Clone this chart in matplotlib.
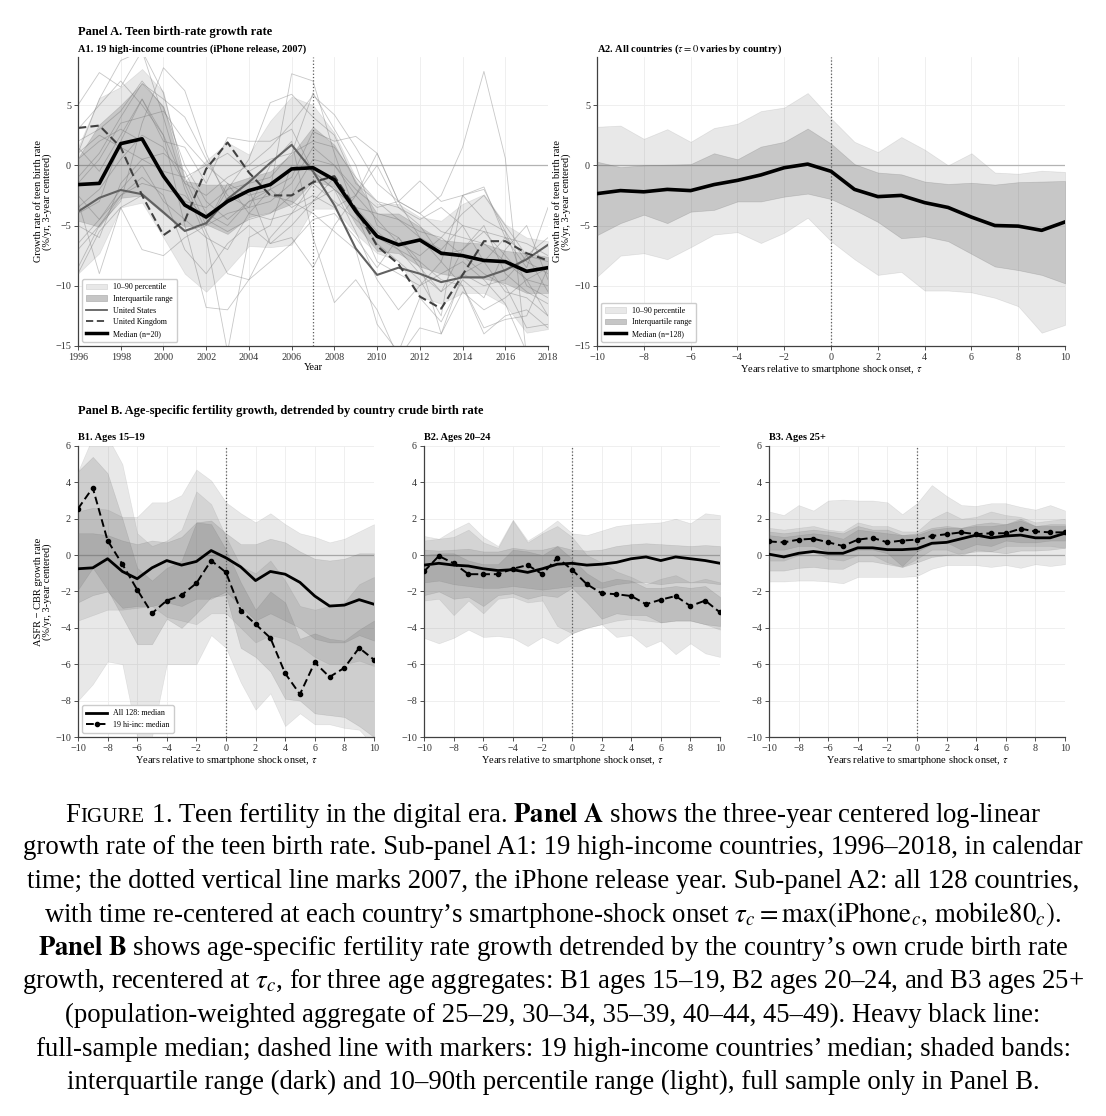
import matplotlib
matplotlib.use('agg')
import matplotlib.pyplot as plt
from matplotlib.patches import Patch
from matplotlib.lines import Line2D
from matplotlib.offsetbox import TextArea, HPacker, AnnotationBbox
import numpy as np

plt.rcParams['font.family'] = ['Liberation Serif', 'DejaVu Serif']
plt.rcParams['mathtext.fontset'] = 'stix'

# ---------------- data ----------------
years = np.arange(1996, 2019)
tau = np.arange(-10, 11)

# A1: 19 high-income countries, calendar time
a1_median = [-1.6, -1.5, 1.8, 2.2, -0.9, -3.3, -4.3, -3.0, -2.1, -1.6, -0.3, -0.2,
             -1.2, -3.8, -5.9, -6.6, -6.2, -7.3, -7.5, -7.9, -8.0, -8.8, -8.5]
a1_us = [-3.85, -2.7, -2.05, -2.4, -3.9, -5.45, -4.8, -2.8, -1.4, 0.2, 1.7, -0.5,
         -3.3, -6.9, -9.1, -8.5, -9.0, -9.7, -9.3, -9.3, -8.7, -7.8, -6.6]
a1_uk = [3.1, 3.3, 1.5, -2.5, -5.8, -4.6, -0.3, 1.9, -0.6, -2.5, -2.5, -1.4,
         -0.9, -3.6, -6.7, -8.2, -10.9, -11.9, -9.1, -6.3, -6.3, -7.3, -7.9]
a1_p10 = [-9.0, -7.3, -3.5, -3.1, -6.0, -9.0, -10.5, -8.7, -6.7, -6.8, -6.6, -3.6,
          -3.6, -5.7, -7.3, -7.9, -10.9, -11.5, -10.6, -10.6, -11.6, -13.9, -13.6]
a1_p90 = [1.5, 5.6, 6.5, 8.0, 6.1, -1.3, 0.4, 1.9, 0.9, 3.7, 5.7, 5.0,
          2.7, -1.0, -3.2, -3.2, -4.3, -4.6, -3.2, -2.4, -4.9, -6.0, -6.3]
a1_p25 = [-4.6, -5.1, -2.7, -2.5, -4.0, -5.1, -4.9, -5.7, -4.3, -3.9, -3.2, -1.3,
          -1.8, -4.9, -7.1, -7.3, -8.4, -9.0, -9.3, -9.4, -9.8, -10.6, -10.6]
a1_p75 = [0.6, 3.4, 5.0, 6.8, 4.9, -1.3, -1.6, -1.6, -1.0, -0.5, 0.9, 3.2,
          1.7, -1.3, -4.0, -4.0, -5.1, -6.2, -6.4, -6.5, -7.1, -7.3, -7.6]
a1_others = [
    [5.0, 7.7, 6.5, 9.5, 6.0, -1.0, -5.0, -2.0, 0.5, 5.2, 5.9, 4.0, 2.5, -1.5, -3.0, -4.5, -5.5, -6.0, -4.0, -2.5, -5.0, -7.5, -6.0],
    [1.0, 5.5, 8.7, 9.5, 4.0, -2.0, -6.0, -7.0, -4.0, -2.0, 7.6, 7.0, 1.0, -4.0, -8.0, -9.0, -10.0, -8.0, -10.0, -13.5, -12.8, -12.5, -8.5],
    [-8.5, -5.0, -3.0, 3.5, 8.1, 6.2, 1.0, -3.0, -2.0, -6.5, -5.0, -3.0, -2.0, -3.5, -4.0, -4.5, -6.0, -8.0, -2.5, -2.0, -5.5, -10.0, -11.0],
    [-3.0, -9.0, -3.5, -7.0, -7.5, -6.0, -5.0, -4.0, -3.5, 0.0, 2.0, -6.0, -11.4, -9.5, -12.0, -16.0, -13.5, -14.0, -9.0, -8.0, -10.5, -11.0, -12.5],
    [1.5, -0.5, 2.5, 5.5, 2.0, 1.5, -1.5, 2.3, 2.0, 2.0, 3.0, -0.5, -2.0, -3.5, -5.5, -7.0, -8.0, -9.5, -10.0, -14.0, -12.5, -12.0, -13.5],
    [-1.0, 1.0, 4.0, 6.8, 5.5, 4.0, 0.5, -2.5, -3.5, -3.0, -1.5, 1.5, 0.0, -2.5, -4.5, -6.5, -7.5, -6.0, -7.5, -9.0, -10.0, -13.5, -13.2],
    [-4.0, -3.0, 2.0, 5.5, 2.5, -5.0, -11.8, -12.0, -9.5, -6.0, -4.0, -3.0, -1.0, -4.0, -6.5, -8.0, -9.5, -12.5, -2.5, -1.8, -6.0, -8.5, -3.5],
    [2.0, 3.0, 4.5, 7.0, 4.8, 0.0, -3.0, -4.5, -3.0, -2.0, -1.0, 2.8, 2.0, 2.4, 1.0, -3.0, -1.3, -3.0, -2.5, -4.5, -5.5, -8.0, -9.0],
    [-6.5, -4.5, -2.0, 0.0, -3.0, -4.5, -6.0, -15.5, -6.0, -5.0, 0.0, -0.5, -2.0, -5.5, -9.5, -12.0, -10.0, -9.0, -8.0, -9.5, -11.5, -15.5, -15.5],
    [0.5, 2.0, 3.0, 2.0, -1.0, -3.0, -3.5, -2.0, -1.5, -1.0, 1.0, 2.0, 1.5, -1.0, -3.0, -3.5, -4.5, -3.5, -5.0, -5.5, -6.0, -6.5, -7.5],
    [-5.0, -6.0, -1.5, 0.5, 1.0, -0.5, -4.0, -5.0, -3.0, -2.5, -3.0, -4.0, -5.5, -7.0, -13.2, -15.5, -11.0, -13.0, -9.5, -11.0, -7.0, -5.0, -9.5],
    [3.0, 5.0, 7.0, 5.0, 2.5, -1.5, -2.5, -1.0, 0.0, 1.5, 3.5, 5.8, 4.2, 1.5, -1.5, -3.0, -4.0, -2.5, 1.5, 7.8, 0.6, -16.0, -15.5],
    [-2.5, -4.5, -2.5, -1.5, -2.0, -2.5, -4.5, -5.5, -4.5, -4.0, -2.5, 0.5, 0.0, -2.0, -3.5, -3.0, -4.0, -5.5, -6.0, -6.5, -8.0, -9.5, -10.0],
    [-7.0, -5.0, -2.5, -1.0, -2.5, -7.0, -9.0, -6.5, -5.0, -6.5, -6.0, -8.5, -5.0, -2.5, 1.0, -3.0, -6.0, -7.0, -5.0, -8.0, -6.0, -7.5, -8.0],
    [-1.5, 0.5, 3.5, 4.0, 4.5, 2.0, 0.0, -1.5, -2.5, -2.0, -3.5, -2.5, -3.5, -2.5, 0.0, -3.5, -5.0, -7.5, -7.0, -5.0, -9.0, -10.5, -11.5],
    [-9.0, -5.5, -3.5, -2.5, -4.0, -5.5, -5.0, -1.5, -4.0, -4.5, -4.0, -1.5, -3.0, -4.5, -6.0, -7.0, -9.0, -10.5, -9.0, -10.0, -9.5, -7.5, -10.5],
    [1.0, 2.5, 1.5, 0.5, -0.5, -1.0, 0.0, 1.0, -0.5, 0.5, 1.0, 6.0, 3.0, 0.0, -5.0, -6.0, -8.5, -10.5, -7.0, -5.5, -7.5, -9.5, -12.5],
    [-3.5, -2.0, 0.5, 2.5, 1.5, -1.5, -5.5, -9.0, -9.5, -8.0, -6.5, -4.5, -4.0, -6.0, -8.5, -6.0, -8.0, -14.0, -10.5, -12.0, -11.0, -9.5, -8.5],
]

# A2: all 128 countries, event time
a2_median = [-2.35, -2.1, -2.2, -2.0, -2.1, -1.6, -1.25, -0.8, -0.2, 0.1, -0.5,
             -2.0, -2.6, -2.5, -3.1, -3.5, -4.3, -5.0, -5.05, -5.4, -4.7]
a2_p25 = [-5.8, -4.8, -4.1, -4.8, -3.85, -3.7, -3.0, -3.0, -2.6, -2.35, -2.8,
          -3.7, -4.7, -6.05, -5.9, -6.3, -7.35, -8.4, -8.7, -9.1, -9.8]
a2_p75 = [0.3, -0.15, 0.0, 0.05, 0.1, 1.0, 0.5, 1.55, 1.95, 3.05, 1.8,
          0.1, -0.6, -0.75, -1.35, -1.55, -1.45, -1.6, -1.4, -1.35, -1.3]
a2_p10 = [-9.25, -7.5, -7.3, -7.8, -6.8, -5.75, -5.55, -6.45, -5.6, -4.35, -6.3,
          -7.8, -9.1, -8.85, -10.4, -10.4, -10.55, -11.0, -11.7, -13.9, -13.25]
a2_p90 = [3.2, 3.3, 2.2, 3.0, 1.95, 3.1, 3.45, 4.5, 4.8, 6.0, 3.9,
          1.95, 1.1, 2.35, 1.3, 0.0, 1.0, -0.6, -0.7, -0.45, -0.55]

# B1: ages 15-19
b1_all_med = [-0.75, -0.7, -0.2, -0.9, -1.3, -0.7, -0.3, -0.55, -0.35, 0.25, -0.15,
              -0.65, -1.4, -0.9, -1.05, -1.5, -2.25, -2.8, -2.75, -2.45, -2.7]
b1_hi_med = [2.55, 3.7, 0.8, -0.5, -1.9, -3.2, -2.5, -2.2, -1.55, -0.3, -0.95,
             -3.05, -3.8, -4.55, -6.5, -7.65, -5.9, -6.7, -6.2, -5.1, -5.75]
b1_all_p10 = [-3.6, -3.3, -3.0, -3.0, -2.9, -2.8, -3.4, -3.6, -3.8, -3.2, -3.2,
              -4.0, -4.8, -4.4, -4.6, -5.0, -5.6, -6.0, -6.0, -5.8, -6.1]
b1_all_p25 = [-2.6, -2.2, -2.0, -2.9, -2.8, -2.8, -2.6, -2.8, -2.4, -2.4, -2.0,
              -2.8, -3.6, -3.2, -3.6, -4.0, -4.6, -4.8, -4.8, -4.4, -4.7]
b1_all_p75 = [1.2, 1.2, 1.1, 0.8, 0.6, 0.8, 0.7, 1.0, 1.8, 1.9, 1.2,
              0.6, 0.6, 0.9, 0.7, 0.2, -0.2, -0.3, -0.2, 0.1, 0.1]
b1_all_p90 = [2.4, 2.6, 2.5, 2.1, 2.1, 2.9, 2.9, 3.3, 4.7, 4.1, 2.9,
              2.3, 1.8, 2.3, 1.7, 1.2, 1.0, 0.7, 0.9, 1.3, 1.7]
b1_hi_p10 = [-8.0, -7.1, -5.85, -6.0, -10.0, -10.0, -6.0, -6.0, -6.0, -4.4, -5.1,
             -7.0, -8.5, -7.6, -9.4, -8.7, -9.3, -9.3, -9.5, -9.6, -10.5]
b1_hi_p25 = [-1.9, -0.7, -1.9, -3.4, -4.9, -4.9, -3.5, -4.0, -3.2, -2.3, -2.2,
             -5.1, -5.6, -6.4, -7.9, -8.0, -8.7, -8.8, -8.9, -9.4, -10.0]
b1_hi_p75 = [4.6, 5.4, 4.5, 2.0, -0.7, -1.4, -0.7, -0.3, 1.8, 1.7, 0.3,
             -1.5, -3.0, -2.0, -2.6, -4.6, -4.3, -4.6, -4.7, -4.1, -3.6]
b1_hi_p90 = [4.6, 6.5, 6.5, 5.0, 1.2, 0.5, 0.8, 1.4, 3.5, 2.8, 1.0,
             -0.6, -1.0, -0.3, -1.4, -2.8, -3.0, -2.8, -2.6, -1.6, -1.2]

# B2: ages 20-24
b2_all_med = [-0.55, -0.45, -0.55, -0.6, -0.75, -0.85, -0.8, -0.95, -0.75, -0.5, -0.45,
              -0.55, -0.5, -0.4, -0.2, -0.1, -0.3, -0.1, -0.2, -0.3, -0.45]
b2_hi_med = [-0.9, -0.05, -0.45, -1.05, -1.05, -1.05, -0.75, -0.55, -1.05, -0.15, -0.8,
             -1.6, -2.1, -2.15, -2.25, -2.7, -2.45, -2.25, -2.8, -2.5, -3.15]
b2_all_p10 = [-4.55, -4.85, -4.55, -4.1, -4.5, -4.45, -4.55, -5.0, -4.5, -4.85, -4.3,
              -4.0, -3.8, -3.6, -3.5, -3.6, -3.7, -3.6, -3.6, -3.8, -4.1]
b2_all_p25 = [-1.5, -1.4, -1.6, -1.7, -1.8, -1.8, -1.7, -1.8, -1.9, -1.8, -1.7,
              -1.7, -1.8, -1.6, -1.5, -1.5, -1.6, -1.5, -1.5, -1.5, -1.6]
b2_all_p75 = [0.3, 0.25, 0.3, 0.35, 0.2, 0.2, 0.4, 0.3, 0.3, 0.5, 0.3,
              0.25, 0.3, 0.5, 0.6, 0.65, 0.6, 0.55, 0.5, 0.55, 0.5]
b2_all_p90 = [1.05, 0.9, 1.4, 1.8, 1.0, 0.5, 1.95, 0.8, 1.3, 1.9, 1.2,
              1.1, 1.35, 1.6, 1.7, 1.75, 1.8, 2.0, 1.75, 2.3, 2.2]
b2_hi_p10 = [-2.5, -2.4, -3.3, -2.5, -3.2, -2.4, -2.3, -2.6, -2.5, -3.9, -4.3,
             -4.0, -3.8, -4.5, -4.4, -5.05, -4.7, -5.45, -4.85, -5.4, -5.6]
b2_hi_p25 = [-2.2, -2.0, -2.4, -2.3, -2.8, -2.2, -2.1, -2.4, -2.2, -2.3, -1.8,
             -2.6, -3.5, -3.2, -3.3, -3.3, -3.7, -3.6, -3.6, -3.8, -3.9]
b2_hi_p75 = [0.0, 0.1, 0.1, -0.3, -0.5, -0.5, 0.3, 0.2, 0.0, 0.5, -0.2,
             -1.0, -1.5, -1.3, -1.4, -1.8, -1.8, -1.7, -1.8, -1.7, -2.3]
b2_hi_p90 = [0.8, 0.9, 1.0, 1.4, 0.7, 0.4, 1.9, 0.7, 1.2, 1.6, 1.0,
             0.0, -0.4, -0.9, -1.2, -1.6, -1.3, -1.1, -1.5, -1.3, -1.5]

# B3: ages 25+
b3_all_med = [0.05, -0.1, 0.1, 0.2, 0.1, 0.1, 0.4, 0.4, 0.3, 0.3, 0.35,
              0.65, 0.7, 0.9, 1.1, 0.95, 1.05, 1.1, 0.95, 0.95, 1.2]
b3_hi_med = [0.75, 0.7, 0.85, 0.9, 0.7, 0.5, 0.85, 0.95, 0.7, 0.8, 0.85,
             1.05, 1.15, 1.25, 1.15, 1.2, 1.2, 1.45, 1.3, 1.25, 1.25]
b3_all_p10 = [-1.45, -1.45, -1.4, -1.4, -1.45, -1.55, -1.2, -1.2, -1.2, -1.2, -1.15,
              -0.75, -0.55, -0.55, -0.55, -0.65, -0.55, -0.7, -0.5, -0.6, -0.5]
b3_all_p25 = [-0.85, -0.85, -0.7, -0.65, -0.75, -0.75, -0.35, -0.35, -0.5, -0.65, -0.4,
              -0.1, 0.0, 0.1, 0.2, 0.2, 0.1, 0.25, 0.25, 0.3, 0.4]
b3_all_p75 = [1.3, 1.2, 1.3, 1.4, 1.3, 1.2, 1.6, 1.4, 1.4, 1.1, 1.2,
              1.5, 1.6, 1.5, 1.7, 1.8, 1.7, 1.9, 1.6, 1.7, 1.7]
b3_all_p90 = [2.4, 2.2, 2.75, 2.45, 3.0, 3.05, 3.0, 3.0, 2.9, 2.25, 2.85,
              3.85, 3.25, 2.75, 2.7, 2.85, 2.85, 2.65, 2.5, 2.75, 2.45]
b3_hi_p10 = [-0.3, -0.3, 0.0, 0.2, -0.2, -0.3, 0.0, 0.0, -0.4, -0.65, -0.2,
             0.3, 0.3, 0.0, 0.3, 0.2, 0.5, 0.5, 0.5, 0.5, 0.4]
b3_hi_p25 = [0.3, 0.3, 0.5, 0.5, 0.2, 0.1, 0.3, 0.3, 0.1, -0.6, 0.2,
             0.6, 0.7, 0.3, 0.6, 0.5, 0.8, 0.7, 0.7, 0.8, 0.8]
b3_hi_p75 = [1.1, 1.0, 1.1, 1.2, 1.1, 0.9, 1.4, 1.3, 1.2, 1.1, 1.1,
             1.4, 1.5, 1.5, 1.6, 1.6, 1.7, 2.0, 1.6, 1.6, 1.6]
b3_hi_p90 = [1.5, 1.4, 1.5, 1.6, 1.4, 1.3, 1.8, 1.6, 1.6, 1.3, 1.3,
             2.0, 2.4, 2.0, 2.1, 2.4, 2.2, 2.1, 1.8, 1.9, 2.0]

band_col = '0.4'
a_light = 0.15
a_dark = 0.25
tick_fs = 7.3
lab_fs = 7.5
leg_fs = 5.8
sub_fs = 7.5


def style_ax(ax, ylim, yticks):
    ax.set_ylim(*ylim)
    ax.set_yticks(yticks)
    ax.grid(True, color='0.93', lw=0.6)
    ax.set_axisbelow(True)
    for s in ['top', 'right']:
        ax.spines[s].set_visible(False)
    for s in ['left', 'bottom']:
        ax.spines[s].set_color('0.25')
        ax.spines[s].set_linewidth(0.9)
    ax.tick_params(labelsize=tick_fs, length=3, width=0.6, colors='0.2', pad=2)
    ax.axhline(0, color='0.7', lw=0.9, zorder=1)


fig = plt.figure(figsize=(11.06, 11.16), dpi=100)

# ---------------- Panel A1 ----------------
ax = fig.add_axes([0.0705, 0.690, 0.4250, 0.2590])
style_ax(ax, (-15, 9), [-15, -10, -5, 0, 5])
for row in a1_others:
    ax.plot(years, row, color='0.6', lw=0.6, alpha=0.55, zorder=2)
ax.fill_between(years, a1_p10, a1_p90, color=band_col, alpha=a_light, lw=0.5, zorder=3)
ax.fill_between(years, a1_p25, a1_p75, color=band_col, alpha=a_dark, lw=0.5, zorder=3)
ax.plot(years, a1_us, color='0.38', lw=1.5, zorder=4)
ax.plot(years, a1_uk, color='0.25', lw=1.5, ls=(0, (4, 2)), zorder=4)
ax.plot(years, a1_median, color='k', lw=2.6, zorder=5)
ax.axvline(2007, color='0.35', ls=':', lw=0.9, zorder=4)
ax.set_xlim(1996, 2018)
ax.set_xticks(np.arange(1996, 2019, 2))
ax.set_xlabel('Year', fontsize=lab_fs, labelpad=1)
ax.set_ylabel('Growth rate of teen birth rate\n(%/yr, 3-year centered)', fontsize=lab_fs,
              linespacing=1.0, labelpad=2)
ax.set_title('A1. 19 high-income countries (iPhone release, 2007)', loc='left',
             fontsize=sub_fs, fontweight='bold', pad=4)
handles = [Patch(fc='#e8e8e8', ec='#d5d5d5', lw=0.5, label='10–90 percentile'),
           Patch(fc='#c6c6c6', ec='#b0b0b0', lw=0.5, label='Interquartile range'),
           Line2D([], [], color='0.38', lw=1.3, label='United States'),
           Line2D([], [], color='0.25', lw=1.3, ls=(0, (4, 2)), label='United Kingdom'),
           Line2D([], [], color='k', lw=2.5, label='Median (n=20)')]
ax.legend(handles=handles, loc='lower left', fontsize=leg_fs, frameon=True,
          edgecolor='0.8', framealpha=1, handlelength=2.6, borderpad=0.5,
          labelspacing=0.45)

# ---------------- Panel A2 ----------------
ax = fig.add_axes([0.5398, 0.690, 0.4232, 0.2590])
style_ax(ax, (-15, 9), [-15, -10, -5, 0, 5])
ax.fill_between(tau, a2_p10, a2_p90, color=band_col, alpha=a_light, lw=0.5, zorder=3)
ax.fill_between(tau, a2_p25, a2_p75, color=band_col, alpha=a_dark, lw=0.5, zorder=3)
ax.plot(tau, a2_median, color='k', lw=2.6, zorder=5)
ax.axvline(0, color='0.35', ls=':', lw=0.9, zorder=4)
ax.set_xlim(-10, 10)
ax.set_xticks(np.arange(-10, 11, 2))
ax.set_xlabel(r'Years relative to smartphone shock onset, $\tau$', fontsize=lab_fs, labelpad=1)
ax.set_ylabel('Growth rate of teen birth rate\n(%/yr, 3-year centered)', fontsize=lab_fs,
              linespacing=1.0, labelpad=2)
ax.set_title(r'A2. All countries ($\tau = 0$ varies by country)', loc='left',
             fontsize=sub_fs, fontweight='bold', pad=4)
handles = [Patch(fc='#e8e8e8', ec='#d5d5d5', lw=0.5, label='10–90 percentile'),
           Patch(fc='#c6c6c6', ec='#b0b0b0', lw=0.5, label='Interquartile range'),
           Line2D([], [], color='k', lw=2.5, label='Median (n=128)')]
ax.legend(handles=handles, loc='lower left', fontsize=leg_fs, frameon=True,
          edgecolor='0.8', framealpha=1, handlelength=2.6, borderpad=0.5,
          labelspacing=0.45)

# ---------------- Panel B ----------------
b_panels = [
    ('B1. Ages 15–19', b1_all_med, b1_hi_med, (b1_all_p10, b1_all_p90), (b1_all_p25, b1_all_p75),
     (b1_hi_p10, b1_hi_p90), (b1_hi_p25, b1_hi_p75)),
    ('B2. Ages 20–24', b2_all_med, b2_hi_med, (b2_all_p10, b2_all_p90), (b2_all_p25, b2_all_p75),
     (b2_hi_p10, b2_hi_p90), (b2_hi_p25, b2_hi_p75)),
    ('B3. Ages 25+', b3_all_med, b3_hi_med, (b3_all_p10, b3_all_p90), (b3_all_p25, b3_all_p75),
     (b3_hi_p10, b3_hi_p90), (b3_hi_p25, b3_hi_p75)),
]
b_lefts = [0.0705, 0.3834, 0.6953]
for i, (title, med_all, med_hi, all_outer, all_inner, hi_outer, hi_inner) in enumerate(b_panels):
    ax = fig.add_axes([b_lefts[i], 0.3396, 0.2676, 0.2608])
    style_ax(ax, (-10, 6), np.arange(-10, 7, 2))
    for lo, hi, al in [(all_outer[0], all_outer[1], a_light), (hi_outer[0], hi_outer[1], a_light),
                       (all_inner[0], all_inner[1], a_dark * 0.8), (hi_inner[0], hi_inner[1], a_dark * 0.8)]:
        ax.fill_between(tau, lo, hi, color=band_col, alpha=al, lw=0.4, zorder=3)
    ax.plot(tau, med_all, color='k', lw=2.0, zorder=5, label='All 128: median')
    ax.plot(tau, med_hi, color='k', lw=1.4, ls=(0, (4, 2)), marker='o', ms=3,
            zorder=5, label='19 hi-inc: median')
    ax.axvline(0, color='0.35', ls=':', lw=0.9, zorder=4)
    ax.set_xlim(-10, 10)
    ax.set_xticks(np.arange(-10, 11, 2))
    ax.set_xlabel(r'Years relative to smartphone shock onset, $\tau$', fontsize=lab_fs, labelpad=1)
    ax.set_title(title, loc='left', fontsize=sub_fs, fontweight='bold', pad=4)
    if i == 0:
        ax.set_ylabel('ASFR − CBR growth rate\n(%/yr, 3-year centered)', fontsize=lab_fs,
                      linespacing=1.0, labelpad=2)
        ax.legend(loc='lower left', fontsize=leg_fs, frameon=True, edgecolor='0.8',
                  framealpha=1, handlelength=2.6, borderpad=0.5, labelspacing=0.45)

# panel headers
fig.text(0.0705, 1 - 32 / 1116, 'Panel A. Teen birth-rate growth rate', fontsize=9,
         fontweight='bold', va='center')
fig.text(0.0705, 1 - 411 / 1116,
         'Panel B. Age-specific fertility growth, detrended by country crude birth rate',
         fontsize=9, fontweight='bold', va='center')

# ---------------- caption ----------------
cap_fs = 19.3
line1 = HPacker(children=[
    TextArea('F', textprops=dict(fontsize=cap_fs)),
    TextArea('IGURE', textprops=dict(fontsize=cap_fs * 0.78)),
    TextArea(' 1. Teen fertility in the digital era. $\\mathbf{Panel\\ A}$ shows the '
             'three-year centered log-linear', textprops=dict(fontsize=cap_fs)),
], align='baseline', pad=0, sep=0)
ab = AnnotationBbox(line1, (0.5, 1 - 815 / 1116), xycoords='figure fraction',
                    box_alignment=(0.5, 0.5), frameon=False)
fig.add_artist(ab)

cap_lines = [
    'growth rate of the teen birth rate. Sub-panel A1: 19 high-income countries, 1996–2018, in calendar',
    'time; the dotted vertical line marks 2007, the iPhone release year. Sub-panel A2: all 128 countries,',
    'with time re-centered at each country’s smartphone-shock onset '
    '$\\tau_c = \\max(\\mathrm{iPhone}_c,\\, \\mathrm{mobile80}_c)$.',
    '$\\mathbf{Panel\\ B}$ shows age-specific fertility rate growth detrended by the country’s own crude birth rate',
    'growth, recentered at $\\tau_c$, for three age aggregates: B1 ages 15–19, B2 ages 20–24, and B3 ages 25+',
    '(population-weighted aggregate of 25–29, 30–34, 35–39, 40–44, 45–49). Heavy black line:',
    'full-sample median; dashed line with markers: 19 high-income countries’ median; shaded bands:',
    'interquartile range (dark) and 10–90th percentile range (light), full sample only in Panel B.',
]
for k, line in enumerate(cap_lines):
    ypx = 848 + 33.5 * k
    fig.text(0.5, 1 - ypx / 1116, line, fontsize=cap_fs, ha='center', va='center')

fig.savefig('out.png', dpi=100)
